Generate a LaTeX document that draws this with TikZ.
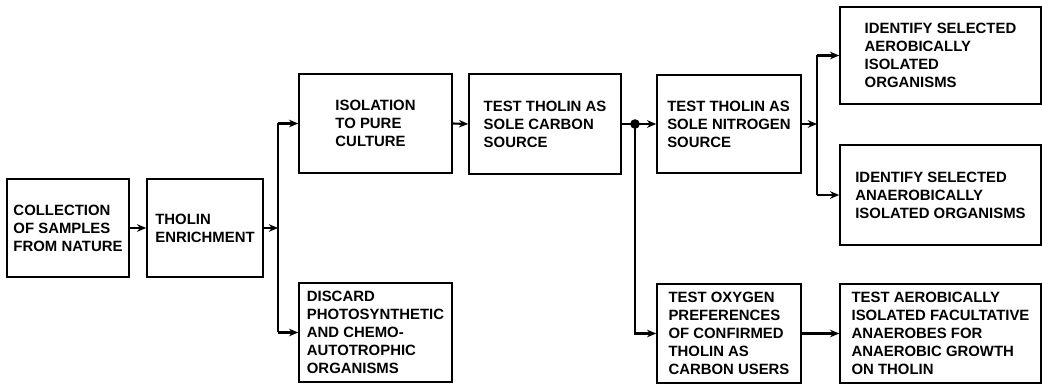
\documentclass[tikz,border=0pt]{standalone}
\usepackage{fontspec}
\setmainfont{Liberation Sans}
\usetikzlibrary{arrows.meta,calc,positioning}

\begin{document}
\begin{tikzpicture}[x=0.025cm, y=-0.025cm,
  stage/.style={draw, line width=1.1pt, align=left, inner sep=2pt, font=\fontsize{10.6}{12.8}\selectfont\bfseries},
  flow/.style={-{Stealth[length=2.3mm,width=1.9mm]}, line width=1.5pt},
  wire/.style={line width=1.5pt},
  junction/.style={circle, fill, inner sep=0pt, minimum size=2.4mm}]
\useasboundingbox (0,0) rectangle (1042,385);
% first row of stages
\node[stage, minimum width=3.05cm, minimum height=2.45cm] (coll) at (68,228) {COLLECTION\\OF SAMPLES\\FROM NATURE};
\node[stage, minimum width=2.9cm, minimum height=2.45cm] (enrich) at (205,228) {THOLIN\\ENRICHMENT};
\node[stage, minimum width=3.825cm, minimum height=2.475cm] (isol) at (375.5,123.5) {ISOLATION\\TO PURE\\CULTURE};
\node[stage, minimum width=3.825cm, minimum height=2.475cm] (discard) at (375.5,332.5) {DISCARD\\PHOTOSYNTHETIC\\AND CHEMO-\\AUTOTROPHIC\\ORGANISMS};
\node[stage, minimum width=3.8cm, minimum height=2.5cm] (carbon) at (545,124) {TEST THOLIN AS\\SOLE CARBON\\SOURCE};
\node[stage, minimum width=3.6cm, minimum height=2.45cm] (nitro) at (729,124) {TEST THOLIN AS\\SOLE NITROGEN\\SOURCE};
\node[stage, minimum width=3.6cm, minimum height=2.475cm] (oxygen) at (729,333.5) {TEST OXYGEN\\PREFERENCES\\OF CONFIRMED\\THOLIN AS\\CARBON USERS};
\node[stage, minimum width=5.025cm, minimum height=2.425cm] (aerob) at (940.5,55.5) {IDENTIFY SELECTED\\AEROBICALLY\\ISOLATED\\ORGANISMS};
\node[stage, minimum width=5.025cm, minimum height=2.5cm] (anaerob) at (940.5,195) {IDENTIFY SELECTED\\ANAEROBICALLY\\ISOLATED ORGANISMS};
\node[stage, minimum width=5.025cm, minimum height=2.475cm] (facult) at (940.5,333.5) {TEST AEROBICALLY\\ISOLATED FACULTATIVE\\ANAEROBES FOR\\ANAEROBIC GROWTH\\ON THOLIN};
% branch points
\coordinate (busA) at (278,228);
\node[junction] (split) at (635,124) {};
\coordinate (busB) at (817,124);
% connectors
\draw[flow] (coll.east) -- (enrich.west);
\draw[flow] (enrich.east) -- (enrich.east -| busA);
\draw[wire] (isol.west -| busA) -- (discard.west -| busA);
\draw[flow] (isol.west -| busA) -- (isol.west);
\draw[flow] (discard.west -| busA) -- (discard.west);
\draw[flow] (isol.east) -- (carbon.west);
\draw[wire] (carbon.east) -- (split.center);
\draw[flow] (split.center) -- (nitro.west);
\draw[flow] (split.center) |- (oxygen.west);
\draw[flow] (nitro.east) -- (busB);
\draw[wire] (busB |- aerob.west) -- (busB |- anaerob.west);
\draw[flow] (busB |- aerob.west) -- (aerob.west);
\draw[flow] (busB |- anaerob.west) -- (anaerob.west);
\draw[flow] (oxygen.east) -- (facult.west);
\end{tikzpicture}
\end{document}
